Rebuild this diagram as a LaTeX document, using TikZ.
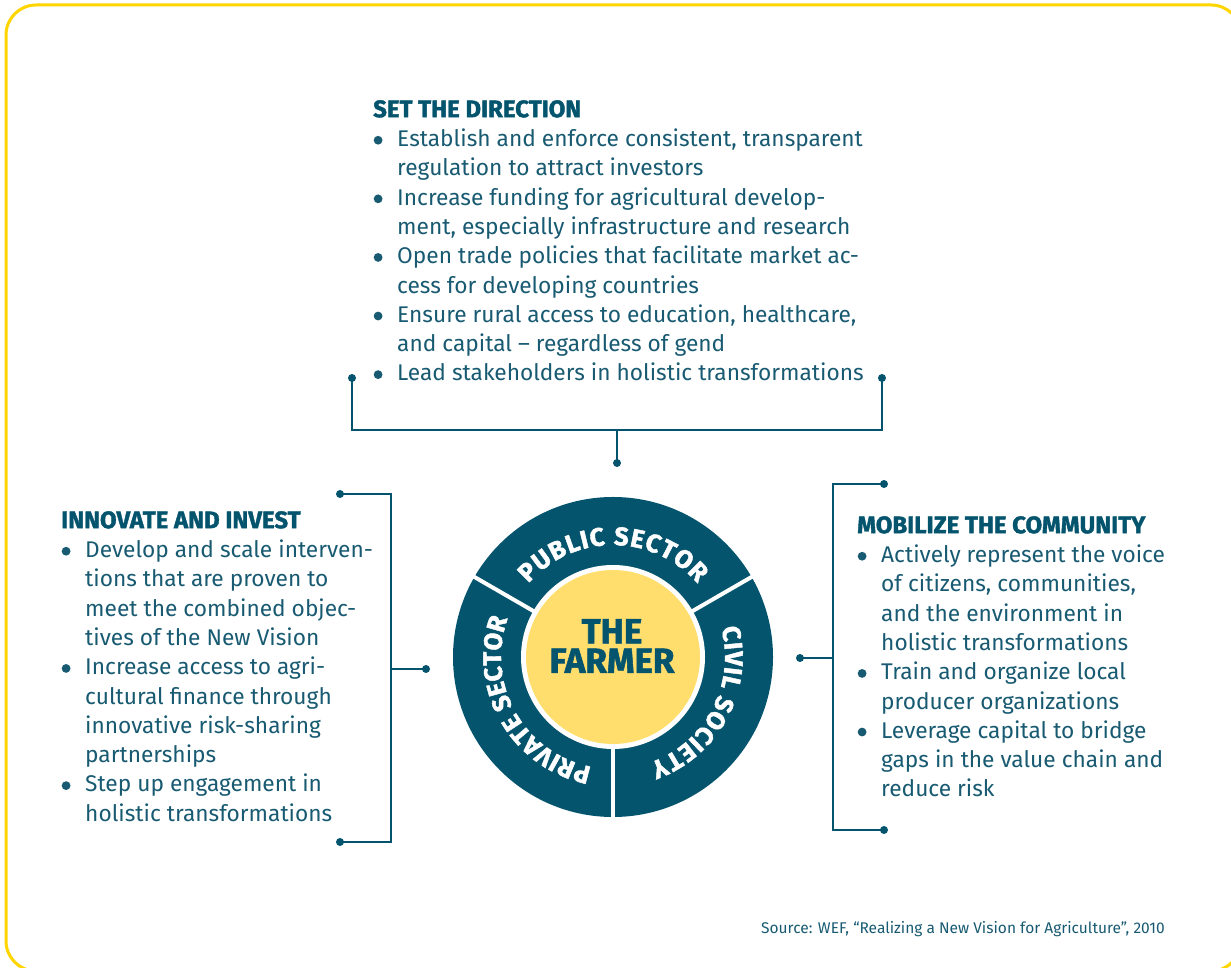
\documentclass[tikz,border=0pt]{standalone}
\usepackage{fontspec}
\setmainfont{Fira Sans}
\newfontfamily\heavyfont{Fira Sans}[BoldFeatures={FakeBold=1.6}]
\newfontfamily\ringfont{Fira Sans}[BoldFeatures={FakeBold=1.8}]
\usetikzlibrary{decorations.text,calc}
\definecolor{tealc}{HTML}{04546E}
\definecolor{ylw}{HTML}{FFD500}
\definecolor{farm}{HTML}{FFDE6E}
\definecolor{txt}{HTML}{185A71}
\newcommand{\blt}{\makebox[24pt][l]{\hspace{0.5pt}\tikz[baseline=-6.3pt]\fill[txt] (0,0) circle (4.4pt);}}
\newcommand{\ind}{\hspace*{24pt}}
\newcommand{\circfont}{\ringfont\bfseries\fontsize{25.5}{25.5}\selectfont\color{white}}
\newcommand{\headfont}{\heavyfont\bfseries\fontsize{24}{29.3}\selectfont\color{tealc}}
\tikzset{
  bodytext/.style={anchor=north west, inner sep=0pt, align=left, text=txt,
    font=\fontsize{22.7}{29.3}\selectfont},
  conn/.style={draw=tealc, line width=2pt},
  dotc/.style={fill=tealc},
  ringtext/.style={decorate, decoration={text along path, text align=fit to path,
    text={|\circfont|#1}}},
}
\begin{document}
\begin{tikzpicture}[x=1pt,y=1pt]
\useasboundingbox (0,0) rectangle (1231,968);
% border
\draw[ylw, line width=3pt, rounded corners=30pt] (6,963) rectangle (1241,-3);

% circle
\coordinate (c) at (613,311);
\fill[tealc] (c) circle (160pt);
\fill[white] (c) circle (92pt);
\fill[farm] (c) circle (87pt);
\foreach \a in {30,150,270}
  \draw[white, line width=4pt] ($(c)+(\a:88pt)$) -- ($(c)+(\a:163pt)$);
\path[ringtext={PUBLIC SECTOR}]
  ($(c)+(139:112pt)$) arc[start angle=139, end angle=41, radius=112pt];
\path[ringtext={CIVIL SOCIETY}]
  ($(c)+(15:112pt)$) arc[start angle=15, end angle=-71, radius=112pt];
\path[ringtext={PRIVATE SECTOR}]
  ($(c)+(259:112pt)$) arc[start angle=259, end angle=160, radius=112pt];
\node[font=\heavyfont\bfseries\fontsize{35}{29.5}\selectfont, text=tealc, align=center, inner sep=0pt] (farmer) at (612,322) {THE\\FARMER};

% top text
\node[bodytext] (toptext) at (373,868) {{\headfont SET THE DIRECTION}\\
\blt Establish and enforce consistent, transparent\\
\ind regulation to attract investors\\
\blt Increase funding for agricultural develop-\\
\ind ment, especially infrastructure and research\\
\blt Open trade policies that facilitate market ac-\\
\ind cess for developing countries\\
\blt Ensure rural access to education, healthcare,\\
\ind and capital – regardless of gend\\
\blt Lead stakeholders in holistic transformations};

% left text
\node[bodytext] (lefttext) at (61,457) {{\headfont INNOVATE AND INVEST}\\
\blt Develop and scale interven-\\
\ind tions that are proven to\\
\ind meet the combined objec-\\
\ind tives of the New Vision\\
\blt Increase access to agri-\\
\ind cultural finance through\\
\ind innovative risk-sharing\\
\ind partnerships\\
\blt Step up engagement in\\
\ind holistic transformations};

% right text
\node[bodytext] (righttext) at (857,452) {{\headfont MOBILIZE THE COMMUNITY}\\
\blt Actively represent the voice\\
\ind of citizens, communities,\\
\ind and the environment in\\
\ind holistic transformations\\
\blt Train and organize local\\
\ind producer organizations\\
\blt Leverage capital to bridge\\
\ind gaps in the value chain and\\
\ind reduce risk};

% source
\node[anchor=base east, inner sep=0pt, text=txt, font=\fontsize{15.5}{17}\selectfont] (src) at (1165,34)
  {Source: WEF, “Realizing a New Vision for Agriculture”, 2010};

% top bracket
\coordinate (tl) at (352,590);
\coordinate (tr) at (882,590);
\coordinate (tm) at (617,538);
\coordinate (td) at (617,505);
\draw[conn] (tl) |- (tm) -| (tr);
\draw[conn] (tm) -- (td);
\foreach \p in {tl,tr,td} \fill[dotc] (\p) circle (4pt);

% left bracket
\coordinate (lt) at (340,474);
\coordinate (lb) at (340,126);
\coordinate (lm) at (391,299);
\coordinate (ld) at (426,299);
\draw[conn] (lt) -| (lm) |- (lb);
\draw[conn] (lm) -- (ld);
\foreach \p in {lt,lb,ld} \fill[dotc] (\p) circle (4pt);

% right bracket
\coordinate (rt) at (884,484);
\coordinate (rb) at (884,138);
\coordinate (rm) at (833,310);
\coordinate (rd) at (800,310);
\draw[conn] (rt) -| (rm) |- (rb);
\draw[conn] (rm) -- (rd);
\foreach \p in {rt,rb,rd} \fill[dotc] (\p) circle (4pt);
\end{tikzpicture}
\end{document}
